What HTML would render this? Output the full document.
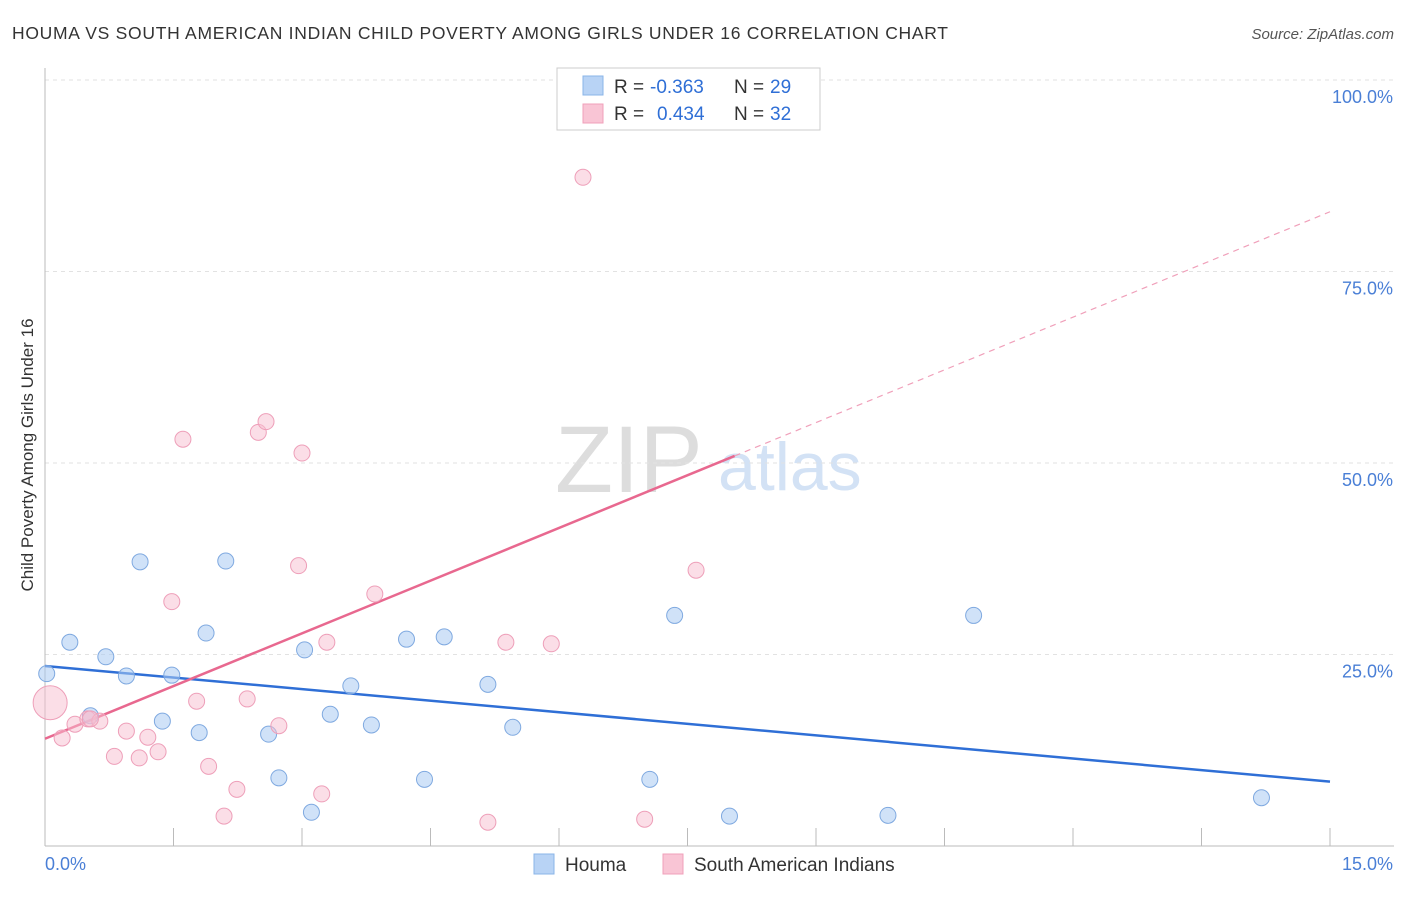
<!DOCTYPE html>
<html><head><meta charset="utf-8"><style>
body{margin:0;background:#fff;font-family:"Liberation Sans",sans-serif;}
svg text{font-family:"Liberation Sans",sans-serif;}
</style></head><body>
<svg id="c" width="1406" height="892">
<text x="12" y="39" font-size="17.5" fill="#333" textLength="936" lengthAdjust="spacing">HOUMA VS SOUTH AMERICAN INDIAN CHILD POVERTY AMONG GIRLS UNDER 16 CORRELATION CHART</text>
<text x="1394" y="39" font-size="15" fill="#555" text-anchor="end" font-style="italic">Source: ZipAtlas.com</text>
<text transform="translate(33,455) rotate(-90)" font-size="17" fill="#333" text-anchor="middle">Child Poverty Among Girls Under 16</text>
<text x="555" y="492" font-size="95" fill="#ddd" font-family="Liberation Serif">ZIP</text>
<text x="718" y="490" font-size="68" fill="#d3e2f5">atlas</text>
<g id="grid"></g><g id="axes"></g><g id="lines"></g><g id="pts"></g>
<g>
<rect x="557" y="68" width="263" height="62" fill="#fff" stroke="#ccc"/>
<rect x="583" y="76" width="20" height="19" fill="#b8d3f5" stroke="#8ab4e8"/>
<rect x="583" y="104" width="20" height="19" fill="#f9c5d5" stroke="#f0a0ba"/>
<text x="614" y="93" font-size="19" fill="#333">R =</text>
<text x="650" y="93" font-size="19" fill="#2f6fd6">-0.363</text>
<text x="734" y="93" font-size="19" fill="#333">N =</text>
<text x="770" y="93" font-size="19" fill="#2f6fd6">29</text>
<text x="614" y="120" font-size="19" fill="#333">R =</text>
<text x="657" y="120" font-size="19" fill="#2f6fd6">0.434</text>
<text x="734" y="120" font-size="19" fill="#333">N =</text>
<text x="770" y="120" font-size="19" fill="#2f6fd6">32</text>
</g>
<g>
<rect x="534" y="854" width="20" height="20" fill="#b8d3f5" stroke="#8ab4e8"/>
<text x="565" y="871" font-size="19" fill="#333">Houma</text>
<rect x="663" y="854" width="20" height="20" fill="#f9c5d5" stroke="#f0a0ba"/>
<text x="694" y="871" font-size="19" fill="#333">South American Indians</text>
</g>
</svg>
<script>
const yTicks=[0,25,50,75,100];
const yTickLabels=["","25.0%","50.0%","75.0%","100.0%"];
const houmaX=[0.02,0.29,0.71,0.95,1.11,1.37,1.48,1.80,1.88,2.11,2.61,2.73,3.03,3.11,3.33,3.57,3.81,4.22,4.43,4.66,5.17,5.46,7.06,7.35,7.99,9.84,10.84,14.20,0.53];
const houmaY=[22.5,26.6,24.7,22.2,37.1,16.3,22.3,14.8,27.8,37.2,14.6,8.9,25.6,4.4,17.2,20.9,15.8,27.0,8.7,27.3,21.1,15.5,8.7,30.1,3.9,4.0,30.1,6.3,17.0];
const sainX=[0.06,0.20,0.35,0.50,0.64,0.81,0.95,1.10,1.20,1.32,1.48,1.61,1.77,1.91,2.09,2.24,2.36,2.49,2.58,2.73,2.96,3.00,3.23,3.29,3.85,5.17,5.38,5.91,6.28,7.00,7.60,0.53];
const sainY=[18.7,14.1,15.9,16.6,16.3,11.7,15.0,11.5,14.2,12.3,31.9,53.1,18.9,10.4,3.9,7.4,19.2,54.0,55.4,15.7,36.6,51.3,6.8,26.6,32.9,3.1,26.6,26.4,87.3,3.5,36.0,16.6];
const houmaTrend=[23.5,8.4];
const sainTrend=[14.0,82.8];
const sainSolidEnd=8.05;
const X=v=>45+v/15*1285, Y=v=>846-v*7.66;
const NS="http://www.w3.org/2000/svg";
function mk(tag,attrs,parent){const e=document.createElementNS(NS,tag);for(const k in attrs)e.setAttribute(k,attrs[k]);document.getElementById(parent).appendChild(e);return e;}
yTicks.forEach((t,i)=>{if(t>0){const l=mk('line',{x1:45,x2:1394,y1:Y(t),y2:Y(t),stroke:'#e2e2e2','stroke-dasharray':'4,4'},'grid');


const tx=mk('text',{x:1393,y:Y(t)+23,'font-size':18,fill:'#4a7fd6','text-anchor':'end'},'grid');tx.textContent=yTickLabels[i];

}});
mk('line',{x1:45,x2:45,y1:68,y2:846,stroke:'#bbb'},'axes');
mk('line',{x1:45,x2:1394,y1:846,y2:846,stroke:'#bbb'},'axes');
for(let i=0;i<=10;i++){const l=mk('line',{x1:X(i*1.5),x2:X(i*1.5),y1:828,y2:846,stroke:'#bbb'},'axes');

}
let t1=mk('text',{x:45,y:870,'font-size':18,fill:'#4a7fd6'},'axes');t1.textContent='0.0%';


let t2=mk('text',{x:1393,y:870,'font-size':18,fill:'#4a7fd6','text-anchor':'end'},'axes');t2.textContent='15.0%';


houmaX.forEach((x,i)=>{const c=mk('circle',{cx:X(x),cy:Y(houmaY[i]),r:8,fill:'rgba(170,202,242,0.55)',stroke:'#7fa9e0','stroke-width':1},'pts');

});
sainX.forEach((x,i)=>{const c=mk('circle',{cx:X(x),cy:Y(sainY[i]),r:i==0?17:8,fill:'rgba(248,190,208,0.5)',stroke:'#ee9fb9','stroke-width':1},'pts');

});
const sy=x=>sainTrend[0]+(sainTrend[1]-sainTrend[0])*x/15;
let a=mk('line',{x1:X(0),y1:Y(houmaTrend[0]),x2:X(15),y2:Y(houmaTrend[1]),stroke:'#2f6fd6','stroke-width':2.5},'lines');


let b=mk('line',{x1:X(0),y1:Y(sy(0)),x2:X(sainSolidEnd),y2:Y(sy(sainSolidEnd)),stroke:'#e8688f','stroke-width':2.5},'lines');


let d=mk('line',{x1:X(sainSolidEnd),y1:Y(sy(sainSolidEnd)),x2:X(15),y2:Y(sy(15)),stroke:'#f0a0ba','stroke-width':1.2,'stroke-dasharray':'6,5'},'lines');


</script>
</body></html>
